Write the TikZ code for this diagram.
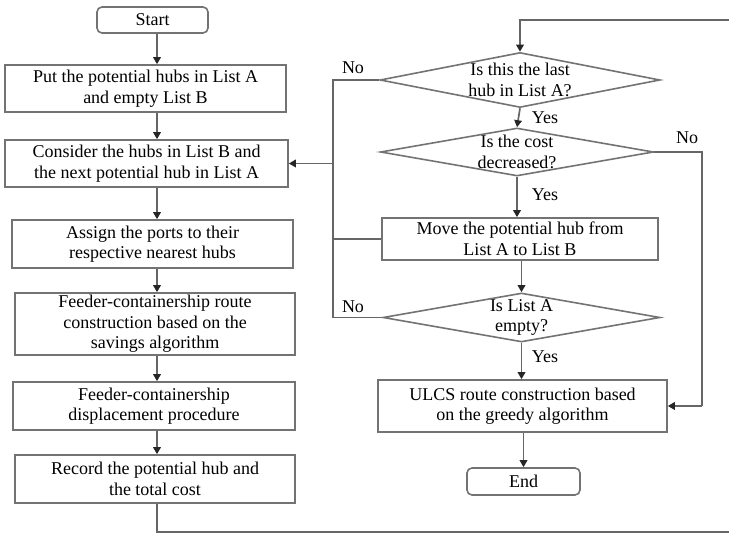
\documentclass[tikz,border=0pt]{standalone}
\usepackage{fontspec}
\setmainfont{Liberation Serif}
\usetikzlibrary{shapes.geometric,arrows.meta}
\begin{document}
\begin{tikzpicture}[x=1pt,y=-1pt,
  every node/.style={font=\fontsize{18}{20.5}\selectfont},
  proc/.style={draw=black!55,line width=1.6pt,rectangle,align=center,inner sep=0pt},
  term/.style={proc,rounded corners=5pt},
  dec/.style={draw=black!55,line width=1.6pt,diamond,inner sep=0pt},
  ln/.style={draw=black!60,line width=1.7pt},
  arr/.style={ln,-{Triangle[length=7pt,width=7.5pt,color=black!85]}},
  lbl/.style={inner sep=0pt}]
\useasboundingbox (0,0) rectangle (729,534);
% left column
\node[term,minimum width=111pt,minimum height=26pt] (start) at (152.5,20) {Start};
\node[proc,minimum width=281pt,minimum height=47pt] (b1) at (145.5,88.5) {Put the potential hubs in List A\\and empty List B};
\node[proc,minimum width=283pt,minimum height=47pt] (b2) at (146.5,163.5) {Consider the hubs in List B and\\the next potential hub in List A};
\node[proc,minimum width=281pt,minimum height=48pt] (b3) at (152.5,244) {Assign the ports to their\\respective nearest hubs};
\node[proc,minimum width=280pt,minimum height=62pt] (b4) at (155,324) {Feeder-containership route\\construction based on the\\savings algorithm};
\node[proc,minimum width=282pt,minimum height=48pt] (b5) at (154,406) {Feeder-containership\\displacement procedure};
\node[proc,minimum width=280pt,minimum height=48pt] (b6) at (155,479) {Record the potential hub and\\the total cost};
% right column
\node[dec,minimum width=280pt,minimum height=55pt,label={[align=center]center:Is this the last\\hub in List A?}] (d1) at (520,80) {};
\node[dec,minimum width=273pt,minimum height=48pt,label={[align=center]center:Is the cost\\decreased?}] (d2) at (517,152) {};
\node[proc,minimum width=276pt,minimum height=42pt] (mv) at (520,239) {Move the potential hub from\\List A to List B};
\node[dec,minimum width=277pt,minimum height=49pt,label={[align=center]center:Is List A\\empty?}] (d3) at (521.5,317.5) {};
\node[proc,minimum width=289pt,minimum height=52pt] (ulcs) at (522.5,406) {ULCS route construction based\\on the greedy algorithm};
\node[term,minimum width=113pt,minimum height=27pt] (end) at (523.5,481.5) {End};
% coordinates
\coordinate (cx) at (157,0);
\coordinate (lx) at (333,0);
\coordinate (px) at (702,0);
\coordinate (topr) at (729,20);
\coordinate (botr) at (729,532);
% left column arrows
\draw[arr] (start.south -| cx) -- (b1.north -| cx);
\draw[arr] (b1.south -| cx) -- (b2.north -| cx);
\draw[arr] (b2.south -| cx) -- (b3.north -| cx);
\draw[arr] (b3.south -| cx) -- (b4.north -| cx);
\draw[arr] (b4.south -| cx) -- (b5.north -| cx);
\draw[arr] (b5.south -| cx) -- (b6.north -| cx);
\draw[ln] (b6.south -| cx) |- (botr);
\draw[arr] (topr) -| (d1.north);
% right column arrows
\draw[arr] (d1.south) -- (d2.north);
\draw[arr] (d2.south) -- (d2.south |- mv.north);
\draw[arr] (mv.south -| d3.north) -- (d3.north);
\draw[arr] (d3.south) -- (d3.south |- ulcs.north);
\draw[arr] (ulcs.south -| end.north) -- (end.north);
% loops
\draw[ln] (d1.west) -- (d1.west -| lx) -- (d3.west -| lx) -- (d3.west);
\draw[ln] (mv.west) -- (mv.west -| lx);
\draw[arr] (lx |- b2.east) -- (b2.east);
\draw[ln] (d2.east) -- (d2.east -| px) -- (px |- ulcs.east);
\draw[arr] (px |- ulcs.east) -- (ulcs.east);
% labels
\node[lbl] (l1) at (353,68) {No};
\node[lbl] (l2) at (545,118) {Yes};
\node[lbl] (l3) at (687,138) {No};
\node[lbl] (l4) at (545,195) {Yes};
\node[lbl] (l5) at (353,307) {No};
\node[lbl] (l6) at (545,357) {Yes};
\end{tikzpicture}
\end{document}
